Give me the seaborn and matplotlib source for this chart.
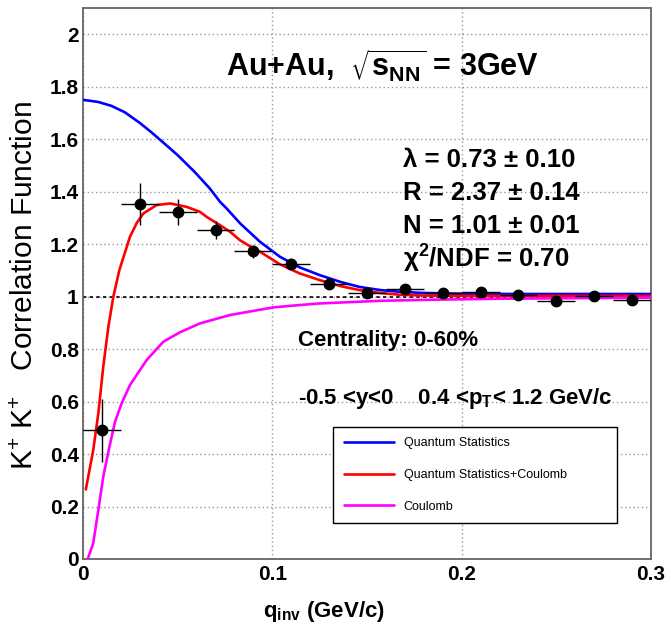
import numpy as np
import pandas as pd
import matplotlib
matplotlib.use("Agg")
import matplotlib.pyplot as plt
import seaborn as sns
from matplotlib.ticker import FixedLocator, MultipleLocator, NullFormatter
from matplotlib.lines import Line2D

# ---------------- data ----------------
q_data = [0.01, 0.03, 0.05, 0.07, 0.09, 0.11, 0.13, 0.15, 0.17, 0.19, 0.21, 0.23, 0.25, 0.27, 0.29]
c_data = [0.49, 1.352, 1.323, 1.253, 1.173, 1.126, 1.050, 1.013, 1.030, 1.013, 1.018, 1.008, 0.982, 1.002, 0.987]
c_err = [0.12, 0.08, 0.05, 0.035, 0.025, 0.02, 0.015, 0.012, 0.012, 0.012, 0.012, 0.012, 0.012, 0.012, 0.02]
q_err = [0.01] * 15

qs_q = [0.000, 0.008, 0.015, 0.022, 0.030, 0.036, 0.041, 0.050, 0.059, 0.067, 0.0724, 0.076, 0.083,
        0.0935, 0.104, 0.1146, 0.125, 0.136, 0.146, 0.157, 0.168, 0.18, 0.20, 0.23, 0.26, 0.30]
qs_c = [1.750, 1.742, 1.727, 1.703, 1.662, 1.627, 1.596, 1.539, 1.475, 1.412, 1.361, 1.335, 1.279,
        1.209, 1.152, 1.111, 1.082, 1.056, 1.037, 1.025, 1.018, 1.014, 1.011, 1.010, 1.010, 1.010]

qsc_q = [0.0015, 0.0054, 0.0081, 0.0107, 0.0134, 0.016, 0.0192, 0.0248, 0.0285, 0.0319, 0.0389, 0.046,
         0.0548, 0.0618, 0.0653, 0.0724, 0.0777, 0.0829, 0.09, 0.0935, 0.104, 0.1146, 0.125, 0.136,
         0.146, 0.157, 0.1675, 0.18, 0.20, 0.25, 0.30]
qsc_c = [0.265, 0.415, 0.555, 0.733, 0.885, 0.999, 1.101, 1.228, 1.282, 1.317, 1.349, 1.355,
         1.342, 1.323, 1.304, 1.272, 1.247, 1.215, 1.184, 1.171, 1.123, 1.088, 1.063, 1.040,
         1.025, 1.014, 1.007, 1.004, 1.003, 1.003, 1.003]

coul_q = [0.0025, 0.0054, 0.0081, 0.0107, 0.0134, 0.0169, 0.0204, 0.0248, 0.0336, 0.0424, 0.0512,
          0.0618, 0.0777, 0.1005, 0.1146, 0.125, 0.157, 0.183, 0.22, 0.26, 0.30]
coul_c = [0.0, 0.06, 0.187, 0.314, 0.409, 0.523, 0.593, 0.663, 0.758, 0.828, 0.864,
          0.898, 0.930, 0.959, 0.968, 0.974, 0.984, 0.988, 0.992, 0.994, 0.996]

x_ticks = [0.0, 0.1, 0.2, 0.3]
x_ticklabels = ["0", "0.1", "0.2", "0.3"]
y_ticks = [0.0, 0.2, 0.4, 0.6, 0.8, 1.0, 1.2, 1.4, 1.6, 1.8, 2.0]
y_ticklabels = ["0", "0.2", "0.4", "0.6", "0.8", "1", "1.2", "1.4", "1.6", "1.8", "2"]

labels = ["Quantum Statistics", "Quantum Statistics+Coulomb", "Coulomb"]
colors = ["#0000ff", "#ff0000", "#ff00ff"]

# ---------------- style ----------------
sns.set_theme(style="white")
plt.rcParams["font.family"] = ["Liberation Sans", "DejaVu Sans"]
plt.rcParams["mathtext.default"] = "regular"
plt.rcParams["text.color"] = "black"
plt.rcParams["axes.labelcolor"] = "black"
plt.rcParams["xtick.color"] = "black"
plt.rcParams["ytick.color"] = "black"

W, H = 671, 630
fig = plt.figure(figsize=(W / 100, H / 100), dpi=100)
L, R, T, B = 83, 651, 8, 559
ax = fig.add_axes([L / W, 1 - B / H, (R - L) / W, (B - T) / H])

def fx(px):
    return px / W

def fy(py):
    return 1 - py / H

# curves
dfs = [pd.DataFrame({"q": qs_q, "C": qs_c}),
       pd.DataFrame({"q": qsc_q, "C": qsc_c}),
       pd.DataFrame({"q": coul_q, "C": coul_c})]
for df, col in zip(dfs, colors):
    sns.lineplot(data=df, x="q", y="C", ax=ax, color=col, lw=1.9, sort=False, zorder=3)

# reference line
ax.axhline(1.0, color="black", lw=1.2, ls=(0, (2, 2)), zorder=2)

# data points
ax.errorbar(q_data, c_data, xerr=q_err, yerr=c_err, fmt="o", color="black",
            ms=7.5, elinewidth=1.0, capsize=0, zorder=4)

ax.set_xlim(0, 0.3)
ax.set_ylim(0, 2.1)
ax.xaxis.set_major_locator(FixedLocator(x_ticks))
ax.set_xticklabels(x_ticklabels)
ax.yaxis.set_major_locator(FixedLocator(y_ticks))
ax.set_yticklabels(y_ticklabels)
ax.xaxis.set_minor_locator(MultipleLocator(0.02))
ax.yaxis.set_minor_locator(MultipleLocator(0.05))
ax.xaxis.set_minor_formatter(NullFormatter())
ax.yaxis.set_minor_formatter(NullFormatter())

ax.tick_params(axis="both", which="major", direction="in", length=12, width=1.1,
               color="#777777", labelcolor="black", labelsize=15, pad=4)
ax.tick_params(axis="both", which="minor", direction="in", length=5.5, width=1.0,
               color="#555555")
ax.tick_params(axis="y", which="major", pad=3)
for lab in ax.get_xticklabels() + ax.get_yticklabels():
    lab.set_fontweight("bold")
    lab.set_color("black")

for s in ax.spines.values():
    s.set_color("#666666")
    s.set_linewidth(1.3)

ax.grid(True, which="major", color="#999999", ls=(0, (1, 2)), lw=1.0, zorder=1)
ax.set_xlabel("")
ax.set_ylabel("")

# axis titles
fig.text(fx(263), fy(617), r"q$_{inv}$ (GeV/c)", fontsize=16, fontweight="bold",
         ha="left", va="baseline", color="black")
fig.text(fx(25), fy(286), r"K$^{+}$ K$^{+}$   Correlation Function", fontsize=21.5,
         rotation=90, ha="center", va="center", color="black")

# annotations
fig.text(fx(226), fy(77), r"Au+Au,  $\sqrt{s_{NN}}$ = 3GeV", fontsize=22,
         fontweight="bold", ha="left", va="baseline", color="black")
params = ["λ = 0.73 ± 0.10", "R = 2.37 ± 0.14", "N = 1.01 ± 0.01", r"χ$^{2}$/NDF = 0.70"]
for txt, yb in zip(params, [167, 200, 233, 268]):
    fig.text(fx(403), fy(yb), txt, fontsize=18.5, fontweight="bold", ha="left",
             va="baseline", color="black")
fig.text(fx(298), fy(346), "Centrality: 0-60%", fontsize=16, fontweight="bold",
         ha="left", va="baseline", color="black")
fig.text(fx(298), fy(404), r"-0.5 <y<0    0.4 <p$_{T}$< 1.2 GeV/c", fontsize=16,
         fontweight="bold", ha="left", va="baseline", color="black")

# legend
handles = [Line2D([0], [0], color=c, lw=1.9) for c in colors]
leg = ax.legend(handles, labels, loc="center", mode="expand",
                bbox_to_anchor=(fx(333), fy(527), (617 - 333) / W, (527 - 423) / H),
                bbox_transform=fig.transFigure, fontsize=9, frameon=True, fancybox=False,
                edgecolor="black", framealpha=1, borderpad=0.86, labelspacing=1.57,
                handlelength=4.0, handletextpad=0.8, borderaxespad=0)
leg.get_frame().set_linewidth(1.0)
for t in leg.get_texts():
    t.set_color("black")
leg.set_zorder(5)

fig.savefig("out.png", dpi=100)
